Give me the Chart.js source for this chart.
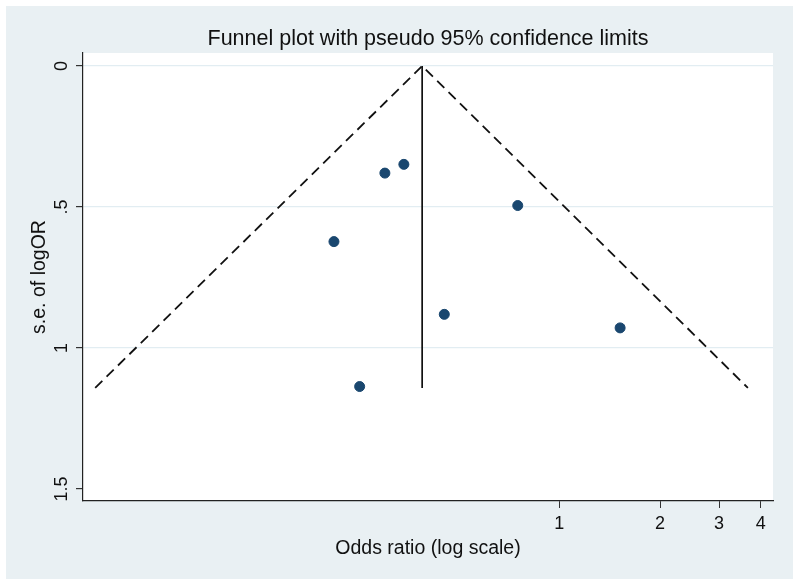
<!DOCTYPE html>
<html>
<head>
<meta charset="utf-8">
<script src="https://cdn.jsdelivr.net/npm/chart.js@4/dist/chart.umd.min.js"></script>
<style>
  body { margin: 0; background: #fff; }
  #wrap { width: 800px; height: 585px; }
</style>
</head>
<body>
<div id="wrap"><canvas id="myChart" width="800" height="585"></canvas></div>
<script>
// study points
var studyOR = [0.301, 0.343, 0.751, 0.212, 0.453, 0.253, 1.519];
var studySE = [0.380, 0.349, 0.495, 0.623, 0.881, 1.137, 0.929];

// pooled estimate line
var pooledOR = [0.389, 0.389];
var pooledSE = [0, 1.142];

// pseudo 95% limits (left end, apex, right end)
var limitOR = [0.041, 0.389, 3.66];
var limitSE = [1.142, 0, 1.142];

var xTicks = [1, 2, 3, 4];
var yTicks = [0, 0.5, 1, 1.5];
var yTickLabels = ["0", ".5", "1", "1.5"];

function toPoints(xs, ys) {
    var pts = [];
    for (let i = 0; i < xs.length; i++) {
        pts.push({ x: xs[i], y: ys[i] });
    }
    return pts;
}

var font = "'Liberation Sans', Arial, Helvetica, sans-serif";

// grey outer frame + white plot region, title centred over the plot region
const backdrop = {
    id: "backdrop",
    afterLayout(chart) {
        if (chart.titleBlock) {
            chart.titleBlock.left = chart.chartArea.left;
            chart.titleBlock.right = chart.chartArea.right;
        }
    },
    beforeDraw(chart) {
        const ctx = chart.ctx;
        const a = chart.chartArea;
        ctx.save();
        ctx.fillStyle = "#e9f0f3";
        ctx.fillRect(6, 6, 787, 573);
        ctx.fillStyle = "#ffffff";
        ctx.fillRect(a.left, a.top, a.right - a.left, a.bottom - a.top);
        ctx.restore();
    },
};

const config = {
    type: "scatter",
    data: {
        datasets: [
            {
                label: "Studies",
                data: toPoints(studyOR, studySE),
                backgroundColor: "#1a476f",
                borderColor: "#1a476f",
                pointRadius: 5,
                pointHoverRadius: 5,
                order: 0,
            },
            {
                label: "Pooled",
                data: toPoints(pooledOR, pooledSE),
                showLine: true,
                borderColor: "#111",
                borderWidth: 1.7,
                pointRadius: 0,
                fill: false,
                order: 1,
            },
            {
                label: "Pseudo 95% CI",
                data: toPoints(limitOR, limitSE),
                showLine: true,
                borderColor: "#111",
                borderWidth: 1.8,
                borderDash: [10, 6],
                pointRadius: 0,
                fill: false,
                order: 2,
            },
        ],
    },
    options: {
        responsive: false,
        animation: false,
        layout: { padding: { left: 0, right: 27, top: 0, bottom: 0 } },
        plugins: {
            legend: { display: false },
            tooltip: { enabled: false },
            title: {
                display: true,
                text: "Funnel plot with pseudo 95% confidence limits",
                color: "#111",
                font: { family: font, size: 21.5, weight: "normal" },
                padding: { top: 26, bottom: 1.2 },
            },
        },
        scales: {
            x: {
                type: "logarithmic",
                min: 0.0377,
                max: 4.35,
                afterBuildTicks: (scale) => {
                    scale.ticks = xTicks.map((v) => ({ value: v }));
                },
                afterFit: (scale) => {
                    scale.height = 84;
                },
                ticks: {
                    color: "#111",
                    font: { family: font, size: 18 },
                    padding: 5,
                    maxRotation: 0,
                    autoSkip: false,
                    callback: (v) => String(v),
                },
                grid: {
                    drawOnChartArea: false,
                    tickLength: 7,
                    tickColor: "#333",
                },
                border: { display: true, color: "#222", width: 1.2 },
                title: {
                    display: true,
                    text: "Odds ratio (log scale)",
                    color: "#111",
                    font: { family: font, size: 19.5 },
                    padding: { top: 0, bottom: 25 },
                },
            },
            y: {
                type: "linear",
                reverse: true,
                min: -0.046,
                max: 1.543,
                afterBuildTicks: (scale) => {
                    scale.ticks = yTicks.map((v) => ({ value: v }));
                },
                afterFit: (scale) => {
                    scale.width = 83;
                },
                ticks: {
                    color: "#111",
                    font: { family: font, size: 18 },
                    minRotation: 90,
                    maxRotation: 90,
                    crossAlign: "center",
                    padding: 1,
                    autoSkip: false,
                    callback: (v) => yTickLabels[yTicks.indexOf(v)],
                },
                grid: {
                    color: (c) => (c.tick && c.tick.value === 1.5 ? "rgba(0,0,0,0)" : "#e2edf2"),
                    lineWidth: 1.2,
                    tickLength: 7,
                    tickColor: "#333",
                },
                border: { display: true, color: "#222", width: 1.2 },
                title: {
                    display: true,
                    text: "s.e. of logOR",
                    color: "#111",
                    font: { family: font, size: 19.5 },
                    padding: { top: 28, bottom: 0 },
                },
            },
        },
    },
    plugins: [backdrop],
};

var myChart = new Chart(document.getElementById("myChart"), config);
</script>
</body>
</html>
